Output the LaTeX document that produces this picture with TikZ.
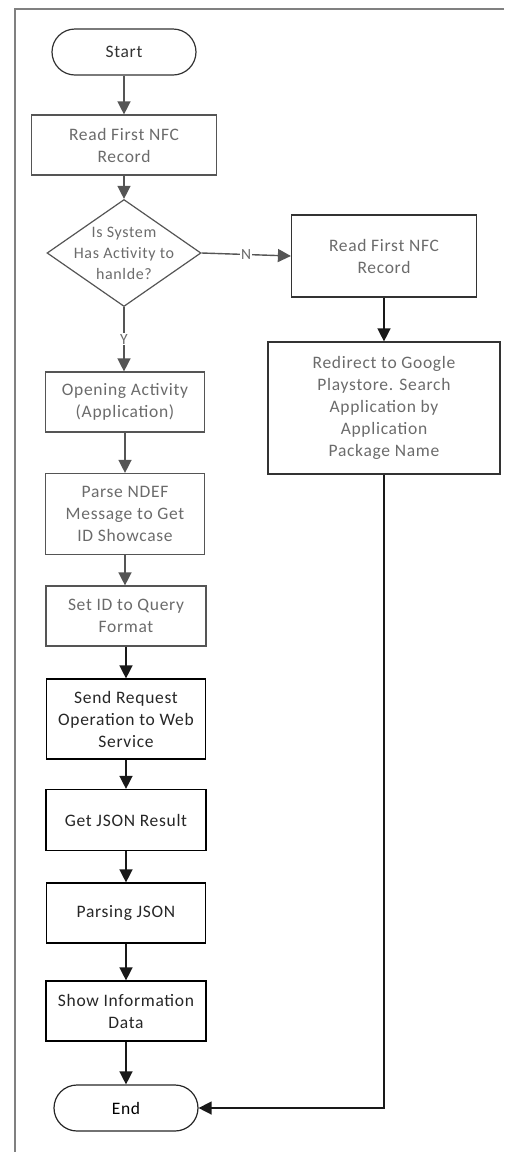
\documentclass[tikz,border=0pt]{standalone}
\usepackage{fontspec}
\setmainfont{Carlito}[LetterSpace=4]
\usetikzlibrary{shapes.geometric,arrows.meta}

\definecolor{inkgray}{HTML}{6B6B6B}
\definecolor{linegray}{HTML}{555555}

\begin{document}
\begin{tikzpicture}[x=1pt, y=-1pt,
    every node/.style={font=\fontsize{17.5}{22}\selectfont, align=center},
    box/.style={draw, rectangle, line width=1.2pt, inner sep=2pt},
    softbox/.style={box, draw=linegray, text=inkgray},
    hardbox/.style={box, draw=black, text=black!85},
    term/.style={draw, rectangle, rounded corners=23pt, line width=1.2pt,
        minimum width=144pt, minimum height=46pt},
    decision/.style={draw=linegray, diamond, line width=1.2pt, inner sep=0pt,
        minimum width=154pt, minimum height=107pt},
    flow/.style={-{Triangle[length=13pt, width=13pt]}, line width=1.4pt, draw=linegray},
    flowdark/.style={flow, draw=black!90}]

    \useasboundingbox (0,0) rectangle (504,1152);

    % the frame around the chart
    \draw[line width=1.5pt, draw=gray] (504,9) -- (15,9) -- (15,1152);

    % the main column
    \node[term, draw=black!80, text=black!80] (start) at (124,52) {Start};
    \node[softbox, minimum width=185pt, minimum height=60pt] (readfirst) at (124,145) {Read First NFC\\Record};
    \node[decision] (check) at (124,253) {};
    \node[text=inkgray, font=\fontsize{16}{21}\selectfont] (checktext) at (check.center) {Is System\\Has Activity to\\hanlde?};
    \node[softbox, minimum width=159pt, minimum height=60pt] (opening) at (125,402) {Opening Activity\\(Application)};
    \node[softbox, minimum width=159pt, minimum height=81pt] (parsendef) at (125,514) {Parse NDEF\\Message to Get\\ID Showcase};
    \node[softbox, minimum width=160pt, minimum height=60pt] (setid) at (126,616) {Set ID to Query\\Format};
    \node[hardbox, minimum width=159pt, minimum height=80pt] (sendreq) at (126,719) {Send Request\\Operation to Web\\Service};
    \node[hardbox, minimum width=160pt, minimum height=61pt] (getjson) at (126,820) {Get JSON Result};
    \node[hardbox, minimum width=159pt, minimum height=60pt] (parsejson) at (126,913) {Parsing JSON};
    \node[hardbox, minimum width=160pt, minimum height=60pt] (showinfo) at (126,1011) {Show Information\\Data};
    \node[term, draw=black!85] (end) at (126,1108) {End};

    % the right column
    \node[softbox, draw=black!80, minimum width=185pt, minimum height=82pt] (readright) at (384,256) {Read First NFC\\Record};
    \node[softbox, draw=black!80, minimum width=232pt, minimum height=132pt] (redirect) at (384,408)
        {Redirect to Google\\Playstore. Search\\Application by\\Application\\Package Name};

    % draw the arrows
    \draw[flow] (start) -- (readfirst);
    \draw[flow] (readfirst) -- (check);
    \draw[flow] (check.east) -- node[fill=white, text=inkgray, inner sep=1pt, font=\fontsize{15.5}{18}\selectfont] {N} (readright.west);
    \draw[flow] (check.south) -- node[fill=white, text=inkgray, inner sep=1pt, font=\fontsize{15.5}{18}\selectfont] {Y} (check.south |- opening.north);
    \draw[flow] (opening) -- (opening |- parsendef.north);
    \draw[flow] (parsendef) -- (parsendef |- setid.north);
    \draw[flowdark] (setid) -- (sendreq);
    \draw[flowdark] (sendreq) -- (getjson);
    \draw[flowdark] (getjson) -- (parsejson);
    \draw[flowdark] (parsejson) -- (showinfo);
    \draw[flowdark] (showinfo) -- (end);
    \draw[flowdark] (readright) -- (redirect);
    \draw[flowdark] (redirect.south) |- (end.east);
\end{tikzpicture}
\end{document}
